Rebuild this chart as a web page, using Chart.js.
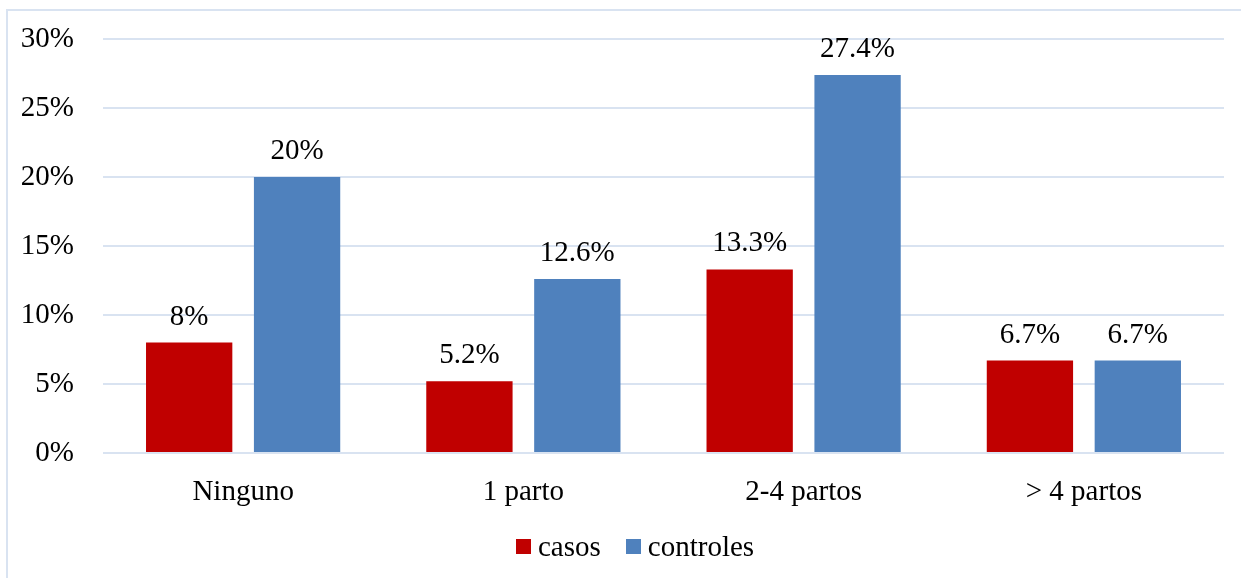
<!DOCTYPE html>
<html>
<head>
<meta charset="utf-8">
<script src="https://cdn.jsdelivr.net/npm/chart.js@4"></script>
<style>
  html, body { margin: 0; padding: 0; background: #fff; overflow: hidden; }
  #wrap { position: relative; width: 1241px; height: 578px; }
  #frame {
    position: absolute; left: 6px; top: 9px; width: 1300px; height: 650px;
    border: 2px solid #D9E3F1; box-sizing: border-box;
  }
  #chart { position: absolute; left: 0; top: 0; }
  #leyenda {
    position: absolute; left: 516px; top: 527px; height: 38px;
    display: flex; align-items: center;
    font-family: 'Liberation Serif', 'Times New Roman', serif; font-size: 29px; color: #000;
  }
  #leyenda .item { display: flex; align-items: center; margin-right: 25px; }
  #leyenda .caja { width: 15px; height: 15px; margin-right: 7px; }
</style>
</head>
<body>
<div id="wrap">
  <div id="frame"></div>
  <canvas id="chart" width="1241" height="578"></canvas>
  <div id="leyenda"></div>
</div>
<script>
const categorias = ["Ninguno", "1 parto", "2-4 partos", "> 4 partos"];
const casos = [8, 5.2, 13.3, 6.7];
const controles = [20, 12.6, 27.4, 6.7];
const ejeMax = 30;
const ejePaso = 5;

const fuente = "'Liberation Serif', 'Times New Roman', serif";
const colores = ["#C00000", "#4F81BD"];

// etiquetas de valor encima de cada barra
const etiquetasBarras = {
  id: "etiquetasBarras",
  afterDatasetsDraw(chart) {
    const ctx = chart.ctx;
    ctx.save();
    ctx.font = "29px " + fuente;
    ctx.fillStyle = "#000";
    ctx.textAlign = "center";
    ctx.textBaseline = "alphabetic";
    chart.data.datasets.forEach((ds, i) => {
      chart.getDatasetMeta(i).data.forEach((bar, j) => {
        ctx.fillText(ds.data[j] + "%", bar.x, bar.y - 18);
      });
    });
    ctx.restore();
  },
};

const ctx = document.getElementById("chart").getContext("2d");
const grafico = new Chart(ctx, {
  type: "bar",
  data: {
    labels: categorias,
    datasets: [
      {
        label: "casos",
        data: casos,
        backgroundColor: colores[0],
        categoryPercentage: 0.77,
        barPercentage: 0.8,
      },
      {
        label: "controles",
        data: controles,
        backgroundColor: colores[1],
        categoryPercentage: 0.77,
        barPercentage: 0.8,
      },
    ],
  },
  options: {
    responsive: false,
    animation: false,
    layout: { padding: { top: 39, right: 17, left: 0, bottom: 0 } },
    plugins: {
      tooltip: { enabled: false },
      legend: { display: false },
    },
    scales: {
      x: {
        grid: { display: false },
        border: { display: false },
        ticks: { color: "#000", padding: 14, font: { family: fuente, size: 29 } },
        afterFit(scale) { scale.height = 125; },
      },
      y: {
        min: 0,
        max: ejeMax,
        grid: { color: "#D9E3F1", lineWidth: 2, drawTicks: false },
        border: { display: false },
        ticks: {
          stepSize: ejePaso,
          padding: 29,
          color: "#000",
          font: { family: fuente, size: 29 },
          callback: (v) => v + "%",
        },
        afterFit(scale) {
          scale.width = 103;
          scale.paddingTop = 0;
          scale.paddingBottom = 0;
        },
      },
    },
  },
  plugins: [etiquetasBarras],
});

// leyenda en HTML con los mismos colores de las series
const leyenda = document.getElementById("leyenda");
grafico.data.datasets.forEach((ds) => {
  const item = document.createElement("div");
  item.className = "item";
  const caja = document.createElement("span");
  caja.className = "caja";
  caja.style.background = ds.backgroundColor;
  const texto = document.createElement("span");
  texto.textContent = ds.label;
  item.appendChild(caja);
  item.appendChild(texto);
  leyenda.appendChild(item);
});
</script>
</body>
</html>
